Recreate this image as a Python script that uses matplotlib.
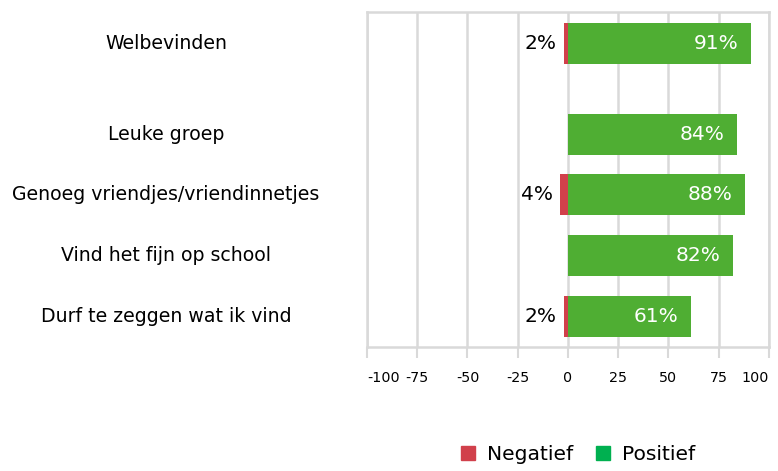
import matplotlib
matplotlib.use("Agg")
import matplotlib.pyplot as plt
import matplotlib.transforms as mtransforms
from matplotlib.patches import Patch

plt.rcParams['font.family'] = 'DejaVu Sans'
plt.rcParams['axes.unicode_minus'] = False

categories = ['Welbevinden', 'Leuke groep', 'Genoeg vriendjes/vriendinnetjes',
              'Vind het fijn op school', 'Durf te zeggen wat ik vind']
negatief = [2, 0, 4, 0, 2]
positief = [91, 84, 88, 82, 61]
xticks = [-100, -75, -50, -25, 0, 25, 50, 75, 100]

# Welbevinden staat apart, daarom een halve rij extra ruimte
ypos = [0, 1.5, 2.5, 3.5, 4.5]

red = '#d1404b'
green = '#4fae33'
grid = '#d9d9d9'

fig = plt.figure(figsize=(7.78, 4.71), dpi=100)
ax = fig.add_axes([0.4717, 0.2633, 0.5167, 0.7112])

h = 0.677
ax.barh(ypos, [-n for n in negatief], height=h, color=red, zorder=3)
ax.barh(ypos, positief, height=h, color=green, zorder=3)

for y, n, p in zip(ypos, negatief, positief):
    if n > 0:
        ax.text(-n - 3.5, y, '%d%%' % n, ha='right', va='center',
                fontsize=14.5, color='black', zorder=4)
    ax.text(p - 6, y, '%d%%' % p, ha='right', va='center',
            fontsize=14.5, color='white', zorder=4)

# categorie labels gecentreerd in de linker ruimte
trans = mtransforms.blended_transform_factory(fig.transFigure, ax.transData)
for y, c in zip(ypos, categories):
    ax.text(166 / 778, y, c, transform=trans, ha='center', va='center', fontsize=13.6)

ax.set_xlim(-100, 100)
ax.set_ylim(5.01, -0.52)
ax.set_xticks(xticks)
ax.set_xticklabels([str(v) for v in xticks], fontsize=10.3)
labels = ax.get_xticklabels()
labels[0].set_ha('left')
labels[-1].set_ha('right')
ax.set_yticks([])
ax.tick_params(axis='x', length=8, width=1.5, color=grid, pad=9)
ax.grid(axis='x', color=grid, linewidth=1.8, zorder=0)
for s in ax.spines.values():
    s.set_color(grid)
    s.set_linewidth(1.8)

handles = [Patch(color=red, label='Negatief'), Patch(color='#00b050', label='Positief')]
fig.legend(handles=handles, loc='center', bbox_to_anchor=(0.743, 0.034), ncol=2,
           frameon=False, fontsize=14.6, handlelength=0.7, handleheight=0.7,
           handletextpad=0.6, columnspacing=1.1)

fig.savefig('out.png', dpi=100)
